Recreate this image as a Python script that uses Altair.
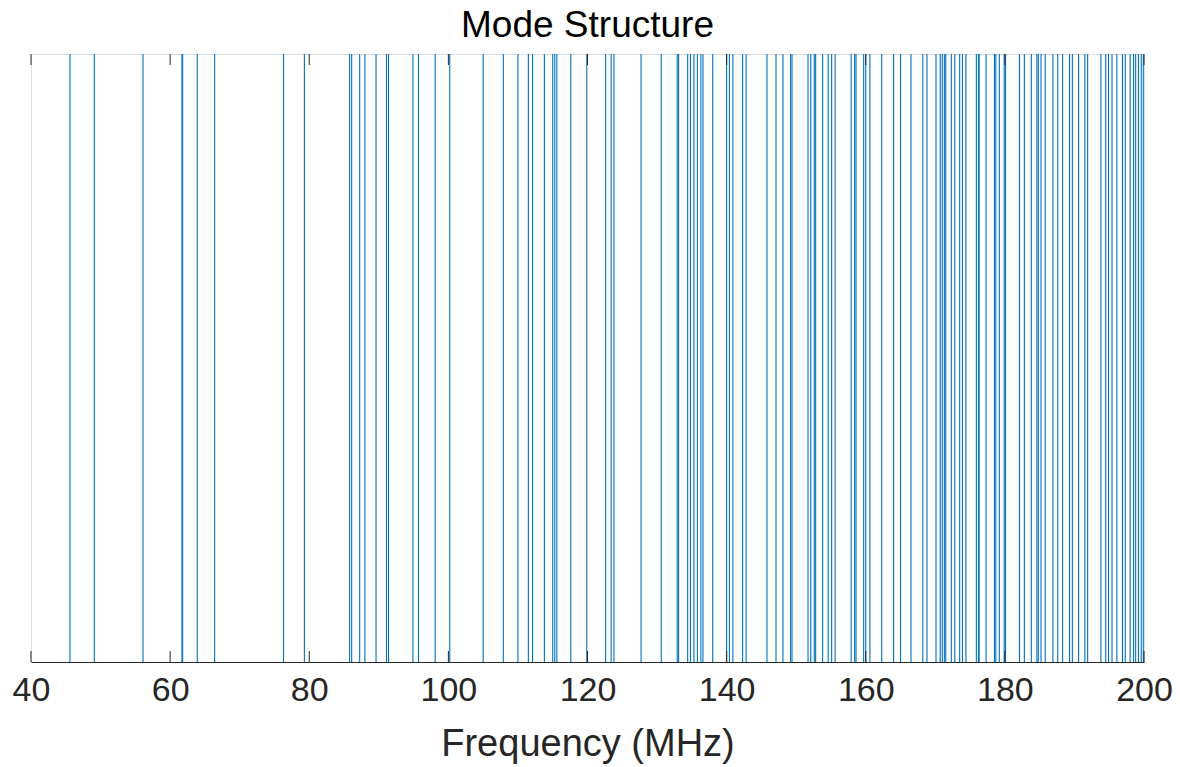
import altair as alt
import pandas as pd

# Resonant mode frequencies (MHz)
mode_freqs = [
    45.6, 49.1, 56.1, 61.7, 61.8, 63.9, 66.4, 76.3, 79.3,
    85.8, 86.1, 87.25, 88.0, 89.6, 91.1, 91.4,
    94.9, 95.7, 98.1, 100.2, 105.0, 107.9,
    110.0, 111.5, 112.1, 113.8, 115.0, 115.3, 115.6, 117.6, 119.9,
    122.6, 123.4, 123.8, 127.7, 130.6, 132.9, 133.1, 134.4, 134.8, 135.3,
    135.8, 136.3, 136.6, 138.0, 140.0, 140.4, 140.9, 142.3, 142.8,
    145.8, 147.1, 148.1, 149.2, 149.4,
    151.7, 152.1, 152.6, 152.8, 153.8, 154.6, 155.1, 155.6,
    157.9, 158.4, 158.6, 159.7, 160.0, 160.6, 162.3,
    164.0, 165.0, 166.5, 168.2, 168.8, 170.1, 170.7, 171.0, 171.3, 171.5,
    172.3, 172.8, 173.5, 173.9, 174.4, 175.9, 176.2, 176.3, 177.3,
    178.5, 178.7, 179.2, 179.9, 180.1, 182.1, 182.8, 183.8,
    184.6, 184.8, 185.2, 185.8, 186.9, 187.6, 188.3, 189.3, 189.7,
    190.6, 191.5, 191.9, 193.8, 194.5, 194.9, 195.4, 196.1,
    196.9, 197.3, 198.0, 198.5, 198.8, 199.2, 199.6, 199.9,
]
tick_values = [40, 60, 80, 100, 120, 140, 160, 180, 200]

W, H = 1113, 608
FONT = "Liberation Sans"

modes = pd.DataFrame({"freq": mode_freqs})
ticks = pd.DataFrame({"t": tick_values})

xscale = alt.Scale(domain=[40, 200], nice=False, zero=False)

lines = alt.Chart(modes).mark_rule(color="#0072BD", strokeWidth=1.1).encode(
    x=alt.X(
        "freq:Q",
        scale=xscale,
        axis=alt.Axis(
            values=tick_values,
            title="Frequency (MHz)",
            titleFontSize=38,
            titleFont=FONT,
            titleFontWeight="normal",
            titleColor="#262626",
            titlePadding=18,
            labelFont=FONT,
            labelFontSize=34,
            labelColor="#262626",
            labelPadding=11,
            labelFlush=False,
            labelBound=False,
            labelOverlap=False,
            ticks=False,
            domainColor="#262626",
            grid=False,
        ),
    ),
    y=alt.value(0),
    y2=alt.value(H),
)

# inward tick marks along the bottom and top edges
bottom_ticks = alt.Chart(ticks).mark_rule(color="#262626", strokeWidth=1).encode(
    x=alt.X("t:Q", scale=xscale),
    y=alt.value(H - 11),
    y2=alt.value(H),
)
top_ticks = alt.Chart(ticks).mark_rule(color="#262626", strokeWidth=1).encode(
    x=alt.X("t:Q", scale=xscale),
    y=alt.value(0),
    y2=alt.value(11),
)

chart = (
    alt.layer(lines, bottom_ticks, top_ticks)
    .properties(
        width=W,
        height=H,
        title=alt.TitleParams(
            "Mode Structure",
            font=FONT,
            fontSize=37,
            fontWeight="normal",
            color="#000000",
            offset=8,
        ),
        autosize=alt.AutoSizeParams(type="none"),
        padding={"left": 31, "top": 54, "right": 36, "bottom": 105},
    )
    .configure_view(stroke="#262626", strokeWidth=1)
    .configure(background="white")
)

chart.save("out.html", embed_options={"renderer": "svg", "actions": False})
